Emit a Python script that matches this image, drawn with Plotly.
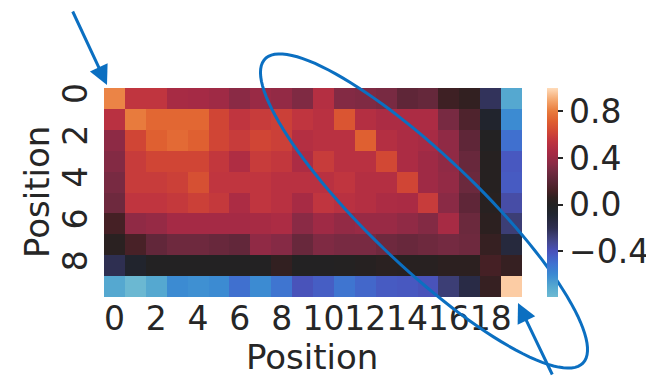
import numpy as np
import plotly.graph_objects as go

# ---------------- data ----------------
x_positions = list(range(20))
y_positions = list(range(10))
x_tick_vals = [0, 2, 4, 6, 8, 10, 12, 14, 16, 18]
y_tick_vals = [0, 2, 4, 6, 8]
cbar_tick_vals = [-0.4, 0.0, 0.4, 0.8]
cbar_tick_text = ["\u22120.4", "0.0", "0.4", "0.8"]
x_title = "Position"
y_title = "Position"

row0 = [0.82, 0.55, 0.55, 0.45, 0.44, 0.42, 0.35, 0.40, 0.38, 0.32, 0.50, 0.33, 0.32, 0.30, 0.22, 0.24, 0.10, 0.07, -0.22, -0.70]
row1 = [0.52, 0.80, 0.74, 0.74, 0.74, 0.62, 0.55, 0.58, 0.60, 0.55, 0.52, 0.68, 0.50, 0.47, 0.47, 0.47, 0.30, 0.16, -0.06, -0.60]
row2 = [0.36, 0.62, 0.72, 0.75, 0.72, 0.62, 0.58, 0.62, 0.60, 0.50, 0.52, 0.52, 0.72, 0.50, 0.47, 0.45, 0.37, 0.22, 0.00, -0.50]
row3 = [0.33, 0.58, 0.62, 0.62, 0.62, 0.56, 0.48, 0.58, 0.56, 0.47, 0.58, 0.52, 0.52, 0.63, 0.47, 0.42, 0.37, 0.25, 0.02, -0.42]
row4 = [0.30, 0.58, 0.58, 0.60, 0.66, 0.55, 0.55, 0.55, 0.52, 0.52, 0.52, 0.55, 0.50, 0.50, 0.62, 0.42, 0.38, 0.26, 0.02, -0.43]
row5 = [0.27, 0.55, 0.55, 0.57, 0.60, 0.57, 0.47, 0.55, 0.52, 0.45, 0.55, 0.52, 0.50, 0.47, 0.46, 0.58, 0.35, 0.22, 0.03, -0.36]
row6 = [0.12, 0.37, 0.39, 0.44, 0.44, 0.44, 0.44, 0.45, 0.47, 0.35, 0.42, 0.38, 0.40, 0.40, 0.37, 0.33, 0.45, 0.26, 0.05, -0.27]
row7 = [0.04, 0.13, 0.23, 0.27, 0.27, 0.25, 0.23, 0.37, 0.34, 0.25, 0.32, 0.30, 0.30, 0.27, 0.25, 0.27, 0.29, 0.27, 0.08, -0.13]
row8 = [-0.20, -0.06, 0.00, 0.00, 0.00, 0.00, 0.00, 0.00, 0.07, 0.00, 0.00, 0.01, 0.02, 0.04, 0.03, 0.03, 0.05, 0.05, 0.12, 0.08]
row9 = [-0.70, -0.78, -0.70, -0.60, -0.62, -0.60, -0.50, -0.60, -0.52, -0.40, -0.44, -0.52, -0.47, -0.43, -0.42, -0.40, -0.27, -0.16, 0.08, 0.97]

z_values = [row0, row1, row2, row3, row4, row5, row6, row7, row8, row9]

z_min = -0.79
z_max = 1.0

# ---------------- icefire-like colormap (centred at 0) ----------------
anchor_vals = [-1.0, -0.78, -0.7, -0.6, -0.5, -0.4, -0.3, -0.2, -0.08, 0.0,
               0.06, 0.12, 0.2, 0.28, 0.35, 0.45, 0.55, 0.62, 0.72, 0.8, 0.9, 1.0]
anchor_cols = ["#bde7db", "#6ab8d2", "#55a8d0", "#3a8ad2", "#4070d0", "#4a52bc",
               "#424585", "#2e2e50", "#202530", "#222222", "#2e2020", "#452025",
               "#5a2535", "#702a40", "#8a2a45", "#a82a45", "#c0353f", "#d04535",
               "#e06030", "#e87a3c", "#f5a870", "#ffdcba"]


def hex_rgb(h):
    h = h.lstrip("#")
    return [int(h[i:i + 2], 16) for i in (0, 2, 4)]


anchor_rgb = np.array([hex_rgb(c) for c in anchor_cols], dtype=float)
colorscale = []
n_stops = 64
for i in range(n_stops):
    t = i / (n_stops - 1)
    v = z_min + t * (z_max - z_min)
    rgb = [np.interp(v, anchor_vals, anchor_rgb[:, k]) for k in range(3)]
    colorscale.append([t, "rgb(%d,%d,%d)" % tuple(int(round(c)) for c in rgb)])

font_family = "DejaVu Sans"
text_color = "#262626"

fig = go.Figure(
    go.Heatmap(
        z=z_values,
        x=x_positions,
        y=y_positions,
        zmin=z_min,
        zmax=z_max,
        colorscale=colorscale,
        colorbar=dict(
            x=1.06,
            xanchor="left",
            xpad=0,
            ypad=0,
            y=0.5,
            len=1.0,
            thickness=11,
            outlinewidth=0,
            ticks="outside",
            ticklen=5,
            tickwidth=1.5,
            tickcolor=text_color,
            tickvals=cbar_tick_vals,
            ticktext=cbar_tick_text,
            tickfont=dict(family=font_family, size=33, color=text_color),
        ),
        showscale=True,
    )
)

# the page body has an 8px default margin, so the figure is 8px smaller
W, H = 646, 368
L, T = 96, 80
pw, ph = 418, 209
R, B = W - L - pw, H - T - ph


def to_paper(px, py):
    # px, py in window pixels of the reference picture
    fx, fy = px - 8, py - 8
    return (fx - L) / pw, (T + ph - fy) / ph


# annotation ellipse (decoration)
cx, cy, a_ax, b_ax, ang = 424.0, 211.0, 220.0, 55.0, np.deg2rad(43.7)
tt = np.linspace(0, 2 * np.pi, 120)
ex = cx + a_ax * np.cos(tt) * np.cos(ang) - b_ax * np.sin(tt) * np.sin(ang)
ey = cy + a_ax * np.cos(tt) * np.sin(ang) + b_ax * np.sin(tt) * np.cos(ang)
pts = [to_paper(px, py) for px, py in zip(ex, ey)]
path = "M " + " L ".join("%.5f,%.5f" % p for p in pts) + " Z"

blue = "#0b6fc1"
head1 = to_paper(107, 85)
head2 = to_paper(518, 303)
xt_pos = to_paper(312, 357)
yt_pos = to_paper(37, 192)

fig.update_layout(
    width=W,
    height=H,
    margin=dict(l=L, r=R, t=T, b=B, pad=0, autoexpand=False),
    paper_bgcolor="white",
    plot_bgcolor="white",
    font=dict(family=font_family, color=text_color),
    xaxis=dict(
        range=[-0.5, 19.5],
        tickvals=x_tick_vals,
        ticktext=[str(v) for v in x_tick_vals],
        tickangle=0,
        showgrid=False,
        zeroline=False,
        showline=False,
        ticks="",
        ticklabelstandoff=-1,
        tickfont=dict(size=33),
        automargin=False,
    ),
    yaxis=dict(
        range=[9.5, -0.5],
        tickvals=y_tick_vals,
        ticktext=[str(v) for v in y_tick_vals],
        tickangle=-90,
        showgrid=False,
        zeroline=False,
        showline=False,
        ticks="",
        ticklabelstandoff=9,
        tickfont=dict(size=33),
        automargin=False,
    ),
    shapes=[
        dict(type="path", path=path, xref="paper", yref="paper",
             line=dict(color=blue, width=3), fillcolor="rgba(0,0,0,0)", layer="above"),
    ],
    annotations=[
        dict(x=xt_pos[0], y=xt_pos[1], xref="paper", yref="paper", text=x_title,
             showarrow=False, xanchor="center", yanchor="middle",
             font=dict(size=34, family=font_family, color=text_color)),
        dict(x=yt_pos[0], y=yt_pos[1], xref="paper", yref="paper", text=y_title,
             showarrow=False, xanchor="center", yanchor="middle", textangle=-90,
             font=dict(size=34, family=font_family, color=text_color)),
        dict(x=head1[0], y=head1[1], xref="paper", yref="paper", text="",
             showarrow=True, ax=-35, ay=-75, arrowhead=2, arrowsize=1.3,
             arrowwidth=3, arrowcolor=blue, standoff=0),
        dict(x=head2[0], y=head2[1], xref="paper", yref="paper", text="",
             showarrow=True, ax=35, ay=73, arrowhead=2, arrowsize=1.3,
             arrowwidth=3, arrowcolor=blue, standoff=0),
    ],
)

fig.write_html("out.html")
